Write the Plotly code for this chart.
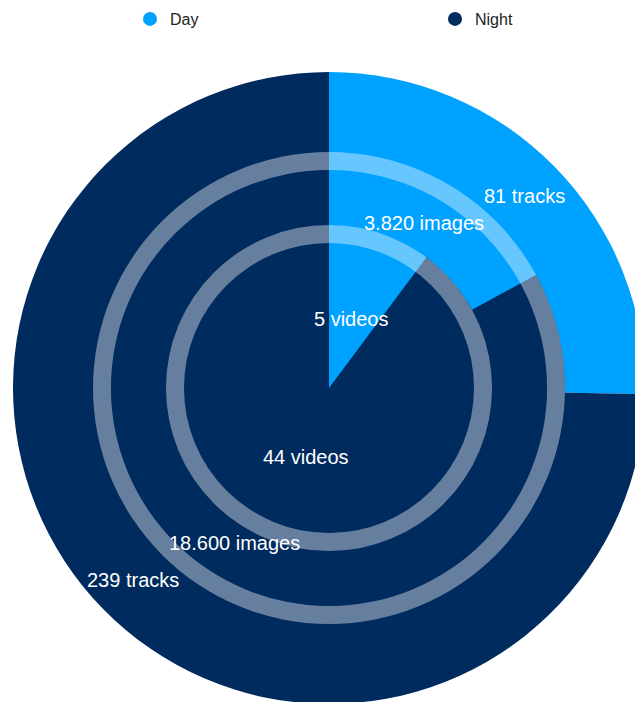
import math
import plotly.graph_objects as go

# ---- data ----
groups = ["Day", "Night"]
videos = [5, 44]
images = [3820, 18600]
tracks = [81, 239]
video_labels = ["5 videos", "44 videos"]
image_labels = ["3.820 images", "18.600 images"]
track_labels = ["81 tracks", "239 tracks"]

# ---- style / layout ----
DAY = "#00A2FF"
NIGHT = "#002B5E"
RING = "rgba(255,255,255,0.4)"
W, H = 646, 705
CX, CY = 329, 388          # pie centre in pixels (from top-left)
R_OUT, R_MID, R_IN = 316, 236, 163
RING_W = 18

def dom(r):
    return dict(x=[(CX - r) / W, (CX + r) / W],
                y=[1 - (CY + r) / H, 1 - (CY - r) / H])

fig = go.Figure()

def pie(values, r, name):
    fig.add_trace(go.Pie(values=values, labels=groups, domain=dom(r), sort=False,
                         direction="clockwise", rotation=0, textinfo="none",
                         marker=dict(colors=[DAY, NIGHT], line=dict(width=0)),
                         showlegend=False, name=name))

def ring(r):
    fig.add_trace(go.Pie(values=[1], labels=["ring"], domain=dom(r), hole=(r - RING_W) / r,
                         sort=False, textinfo="none", hoverinfo="skip",
                         marker=dict(colors=[RING], line=dict(width=0)), showlegend=False))

pie(tracks, R_OUT, "tracks")
pie(images, R_MID, "images")
ring(R_MID)
pie(videos, R_IN, "videos")
ring(R_IN)

# legend entries (circle markers), one legend per entry to space them apart
for g, c, lg in zip(groups, [DAY, NIGHT], ["legend", "legend2"]):
    fig.add_trace(go.Scatter(x=[None], y=[None], mode="markers", name=g, legend=lg,
                             marker=dict(color=c, size=14, symbol="circle")))

# labels at the middle angle of each slice
def labels(values, texts, radius, yshift=0):
    total = sum(values)
    start = 0.0
    for v, t in zip(values, texts):
        mid = (start + v / 2) / total * 2 * math.pi
        start += v
        px = CX + radius * math.sin(mid)
        py = CY - radius * math.cos(mid)
        fig.add_annotation(x=px / W, y=1 - py / H, xref="paper", yref="paper",
                           xanchor="center", yanchor="middle", yshift=yshift,
                           text=t, showarrow=False,
                           font=dict(color="white", size=20))

labels(tracks, track_labels, (R_MID + R_OUT) / 2 - 2)
labels(images, image_labels, 186, yshift=5)
labels(videos, video_labels, (R_IN - RING_W) / 2)

leg = dict(orientation="h", xanchor="left", y=1 - 2 / H, yanchor="top",
           font=dict(size=16, color="#222222"), bgcolor="rgba(0,0,0,0)")

fig.update_layout(
    width=W, height=H,
    margin=dict(l=0, r=0, t=0, b=0),
    paper_bgcolor="white", plot_bgcolor="white",
    font=dict(family="Liberation Sans, Arial, sans-serif", color="#222222", size=15),
    xaxis=dict(visible=False), yaxis=dict(visible=False),
    legend=dict(leg, x=130 / W),
    legend2=dict(leg, x=435 / W),
)

fig.write_html("out.html")
